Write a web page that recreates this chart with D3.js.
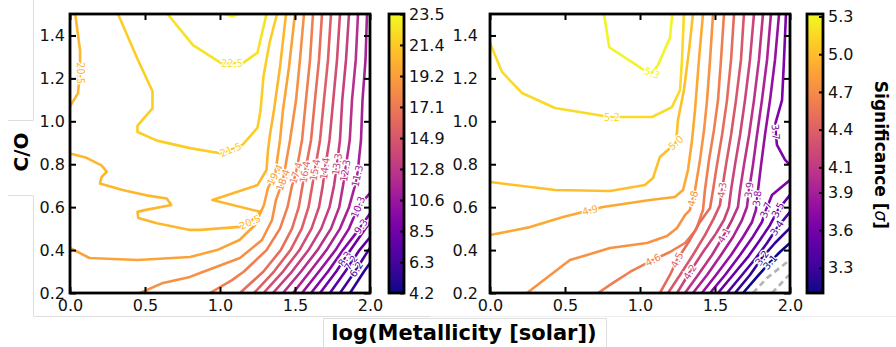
<!DOCTYPE html>
<html>
<head>
<meta charset="utf-8">
<script src="https://cdn.jsdelivr.net/npm/d3@7"></script>
<style>
body{margin:0;background:#fff;}
svg{display:block;font-family:"DejaVu Sans",sans-serif;}
</style>
</head>
<body>
<svg id="chart" width="896" height="347"></svg>
<script>
// axis ticks
var xTicks = [0, 0.5, 1.0, 1.5, 2.0];
var yTicks = [0.2, 0.4, 0.6, 0.8, 1.0, 1.2, 1.4];
var xDomain = [0, 2];
var yDomain = [0.2, 1.5];

// colour ranges + colorbar ticks
var leftRange = [4.2, 23.5];
var rightRange = [3.1, 5.32];
var leftCbarTicks = [4.2, 6.34, 8.49, 10.63, 12.78, 14.92, 17.07, 19.21, 21.36, 23.5];
var rightCbarTicks = [3.3, 3.6, 3.9, 4.1, 4.4, 4.7, 5.0, 5.3];

// contour lines: [level, [[logZ, C/O], ...]]
var leftContours = [
  [23.5, [[1.03,1.5],[1.08,1.49],[1.13,1.5]]],
  [22.48, [[0.65,1.5],[0.82,1.355],[1.01,1.27],[1.15,1.27],[1.25,1.32],[1.31,1.5]]],
  [21.47, [[0.32,1.5],[0.45,1.29],[0.55,1.14],[0.55,1.06],[0.45,0.98],[0.45,0.95],[0.58,0.91],[0.8,0.875],[1.01,0.85],[1.15,0.89],[1.25,0.97],[1.27,1.05],[1.29,1.21],[1.33,1.365],[1.38,1.5]]],
  [20.46, [[0.035,1.5],[0.067,1.33],[0.067,1.225],[0.053,1.13],[0.013,1.085],[0,1.07]]],
  [20.46, [[0,0.85],[0.11,0.83],[0.21,0.795],[0.245,0.765],[0.21,0.74],[0.2,0.71],[0.35,0.68],[0.51,0.655],[0.645,0.64],[0.675,0.61],[0.49,0.585],[0.45,0.578],[0.455,0.55],[0.58,0.525],[0.8,0.494],[0.87,0.494],[1.13,0.508],[1.2,0.53],[1.27,0.578],[0.95,0.633],[1.25,0.703],[1.31,0.773],[1.32,0.866],[1.335,0.946],[1.36,1.053],[1.4,1.253],[1.44,1.5]]],
  [19.44, [[0,0.41],[0.13,0.363],[0.45,0.354],[0.8,0.368],[0.98,0.4],[1.13,0.447],[1.233,0.517],[1.293,0.61],[1.32,0.69],[1.367,0.75],[1.4,0.913],[1.42,1.053],[1.46,1.253],[1.5,1.5]]],
  [18.42, [[0.467,0.2],[0.62,0.247],[0.8,0.275],[0.867,0.293],[1.133,0.363],[1.28,0.447],[1.347,0.54],[1.373,0.633],[1.42,0.726],[1.467,0.913],[1.507,1.099],[1.533,1.286],[1.56,1.5]]],
  [17.41, [[0.933,0.2],[1.08,0.26],[1.16,0.3],[1.31,0.4],[1.4,0.5],[1.45,0.6],[1.48,0.7],[1.507,0.759],[1.547,0.913],[1.573,1.099],[1.6,1.286],[1.62,1.5]]],
  [16.39, [[1.133,0.2],[1.29,0.3],[1.405,0.4],[1.48,0.5],[1.525,0.6],[1.55,0.7],[1.567,0.764],[1.607,0.913],[1.633,1.099],[1.66,1.286],[1.68,1.5]]],
  [15.37, [[1.227,0.2],[1.36,0.3],[1.47,0.4],[1.545,0.5],[1.59,0.6],[1.615,0.7],[1.633,0.773],[1.667,0.913],[1.693,1.099],[1.72,1.286],[1.74,1.5]]],
  [14.36, [[1.29,0.2],[1.42,0.3],[1.53,0.4],[1.61,0.5],[1.66,0.6],[1.685,0.7],[1.7,0.78],[1.73,0.913],[1.755,1.099],[1.78,1.286],[1.8,1.5]]],
  [13.34, [[1.353,0.2],[1.48,0.3],[1.59,0.4],[1.675,0.5],[1.73,0.6],[1.76,0.7],[1.78,0.8],[1.8,0.913],[1.815,1.099],[1.84,1.286],[1.86,1.5]]],
  [12.33, [[1.42,0.2],[1.54,0.3],[1.65,0.4],[1.74,0.5],[1.795,0.6],[1.82,0.7],[1.835,0.77],[1.865,0.913],[1.88,1.099],[1.905,1.286],[1.92,1.5]]],
  [11.31, [[1.487,0.2],[1.6,0.3],[1.71,0.4],[1.8,0.5],[1.86,0.6],[1.9,0.7],[1.915,0.745],[1.94,0.913],[1.95,1.099],[1.97,1.286],[1.98,1.5]]],
  [10.29, [[1.547,0.2],[1.66,0.3],[1.77,0.4],[1.86,0.5],[1.92,0.6],[2.0,0.666]]],
  [9.28, [[1.607,0.2],[1.72,0.3],[1.82,0.4],[1.93,0.5],[2.0,0.57]]],
  [8.26, [[1.667,0.2],[1.775,0.3],[1.87,0.4],[1.97,0.5],[2.0,0.53]]],
  [7.24, [[1.733,0.2],[1.835,0.3],[1.93,0.4],[2.0,0.46]]],
  [6.23, [[1.8,0.2],[1.9,0.3],[1.99,0.4],[2.0,0.41]]],
  [5.22, [[1.867,0.2],[1.96,0.3],[2.0,0.34]]]
];
var leftLabels = [
  [22.48,1.08,1.27],[21.47,1.08,0.852],[20.46,0.067,1.225],[20.46,1.2,0.53],
  [19.44,1.367,0.75],[18.42,1.42,0.726],[17.41,1.507,0.759],[16.39,1.567,0.764],
  [15.37,1.633,0.773],[14.36,1.7,0.78],[13.34,1.78,0.8],[12.33,1.835,0.77],
  [11.31,1.915,0.745],[10.29,1.92,0.6],[9.28,1.94,0.51],[8.26,1.83,0.36],
  [7.24,1.873,0.34],[6.23,1.91,0.31]
];

var rightContours = [
  [5.3, [[0.76,1.5],[0.795,1.345],[1.025,1.24],[1.08,1.225],[1.12,1.262],[1.2,1.39],[1.215,1.5]]],
  [5.16, [[0,1.365],[0.08,1.23],[0.213,1.132],[0.433,1.062],[0.8,1.02],[1.08,1.02],[1.213,1.066],[1.267,1.146],[1.28,1.286],[1.293,1.5]]],
  [5.02, [[0,0.717],[0.433,0.68],[0.8,0.675],[1.033,0.703],[1.087,0.736],[1.133,0.834],[1.24,0.9],[1.253,1.006],[1.293,1.146],[1.327,1.332],[1.353,1.5]]],
  [4.89, [[0,0.47],[0.267,0.507],[0.487,0.554],[0.753,0.601],[1.067,0.633],[1.233,0.647],[1.287,0.68],[1.32,0.773],[1.347,0.913],[1.367,1.053],[1.393,1.286],[1.42,1.5]]],
  [4.75, [[0.247,0.2],[0.333,0.247],[0.533,0.354],[0.647,0.377],[0.8,0.41],[1.047,0.433],[1.18,0.466],[1.247,0.503],[1.3,0.563],[1.333,0.587],[1.367,0.68],[1.4,0.82],[1.427,0.959],[1.447,1.099],[1.467,1.286],[1.487,1.5]]],
  [4.61, [[0.72,0.2],[0.82,0.247],[0.933,0.298],[1.087,0.354],[1.2,0.391],[1.3,0.433],[1.373,0.494],[1.42,0.587],[1.433,0.68],[1.46,0.82],[1.493,0.959],[1.52,1.099],[1.54,1.286],[1.56,1.5]]],
  [4.48, [[1.133,0.2],[1.2,0.284],[1.247,0.354],[1.333,0.447],[1.4,0.531],[1.467,0.596],[1.487,0.68],[1.513,0.796],[1.547,0.936],[1.58,1.099],[1.607,1.286],[1.627,1.5]]],
  [4.34, [[1.187,0.2],[1.267,0.284],[1.353,0.377],[1.433,0.47],[1.493,0.549],[1.533,0.61],[1.547,0.68],[1.573,0.796],[1.607,0.936],[1.64,1.099],[1.673,1.286],[1.693,1.5]]],
  [4.2, [[1.247,0.2],[1.333,0.298],[1.42,0.391],[1.5,0.47],[1.56,0.54],[1.593,0.601],[1.607,0.68],[1.633,0.796],[1.667,0.936],[1.7,1.099],[1.733,1.286],[1.76,1.5]]],
  [4.07, [[1.3,0.2],[1.387,0.284],[1.48,0.377],[1.56,0.47],[1.613,0.54],[1.653,0.601],[1.667,0.68],[1.693,0.796],[1.727,0.936],[1.76,1.099],[1.793,1.286],[1.82,1.5]]],
  [3.93, [[1.353,0.2],[1.447,0.284],[1.54,0.377],[1.62,0.461],[1.68,0.54],[1.713,0.601],[1.727,0.68],[1.753,0.796],[1.78,0.936],[1.813,1.099],[1.847,1.286],[1.873,1.5]]],
  [3.79, [[1.413,0.2],[1.507,0.284],[1.607,0.377],[1.687,0.461],[1.747,0.531],[1.773,0.587],[1.787,0.68],[1.807,0.796],[1.833,0.936],[1.867,1.099],[1.9,1.286],[1.927,1.5]]],
  [3.66, [[1.973,1.5],[1.96,1.286],[1.947,1.099],[1.9,0.983],[1.913,0.89],[1.967,0.82],[2.0,0.796]]],
  [3.66, [[2.0,0.726],[1.88,0.657],[1.84,0.587],[1.813,0.531],[1.747,0.456],[1.667,0.377],[1.567,0.284],[1.467,0.2]]],
  [3.51, [[1.52,0.2],[1.62,0.284],[1.72,0.368],[1.8,0.447],[1.867,0.517],[1.92,0.587],[2.0,0.657]]],
  [3.37, [[1.58,0.2],[1.68,0.284],[1.773,0.363],[1.847,0.433],[1.913,0.503],[2.0,0.578]]],
  [3.24, [[1.633,0.2],[1.733,0.284],[1.813,0.363],[1.9,0.433],[2.0,0.503]]],
  [3.1, [[1.687,0.2],[1.78,0.275],[1.867,0.344],[1.933,0.391],[2.0,0.433]]]
];
var rightDashed = [
  [[1.753,0.2],[1.847,0.27],[1.98,0.344],[2.0,0.354]],
  [[1.88,0.2],[1.987,0.279],[2.0,0.284]]
];
var rightLabels = [
  [5.3,1.08,1.225],[5.16,0.813,1.02],[5.02,1.24,0.9],[4.89,0.667,0.586],
  [4.75,1.352,0.64],[4.61,1.087,0.354],[4.48,1.247,0.354],[4.34,1.547,0.68],
  [4.2,1.333,0.298],[4.07,1.56,0.47],[3.93,1.727,0.68],[3.79,1.781,0.64],
  [3.66,1.905,0.95],[3.66,1.84,0.587],[3.51,1.92,0.587],[3.37,1.913,0.503],
  [3.24,1.813,0.363],[3.1,1.867,0.344]
];

var svg = d3.select("#chart");
var top0 = 14, pw = 300, ph = 279;

// faint frame lines that sit in the original screenshot
var faint = svg.append("g").attr("stroke", "#dedede").attr("stroke-width", 1).attr("fill", "none");
faint.append("path").attr("d", "M33.5,0V120.5H8");
faint.append("path").attr("d", "M8,195.5H33.5V316.5H430");
faint.append("path").attr("d", "M430,316.5H896").attr("stroke", "#eeeeee");
faint.append("path").attr("d", "M323.5,347V318.5H606.5V347");

function drawPanel(o){
    var g = svg.append("g").attr("transform", "translate(" + o.left + "," + top0 + ")");
    var x = d3.scaleLinear().domain(xDomain).range([0, pw]);
    var y = d3.scaleLinear().domain(yDomain).range([ph, 0]);
    var color = function(v){
        return d3.interpolatePlasma((v - o.range[0]) / (o.range[1] - o.range[0]));
    };
    var line = d3.line().x(function(d){ return x(d[0]); }).y(function(d){ return y(d[1]); });

    g.append("clipPath").attr("id", o.id).append("rect").attr("width", pw).attr("height", ph);
    var body = g.append("g").attr("clip-path", "url(#" + o.id + ")");

    body.selectAll("path.ctr")
        .data(o.contours)
        .enter().append("path")
        .attr("class", "ctr")
        .attr("d", function(d){ return line(d[1]); })
        .attr("fill", "none")
        .attr("stroke", function(d){ return color(d[0]); })
        .attr("stroke-width", 2.6)
        .attr("stroke-linejoin", "round");

    if(o.dashed){
        body.selectAll("path.dash")
            .data(o.dashed)
            .enter().append("path")
            .attr("class", "dash")
            .attr("d", line)
            .attr("fill", "none")
            .attr("stroke", "#b4b4b4")
            .attr("stroke-width", 2.6)
            .attr("stroke-dasharray", "6,4");
    }

    // inline labels, rotated along the nearest segment of their contour
    o.labels.forEach(function(lb){
        var px = x(lb[1]), py = y(lb[2]);
        var best = null;
        o.contours.forEach(function(c){
            if(c[0] !== lb[0]) return;
            var pts = c[1];
            for(var i = 0; i < pts.length - 1; i++){
                var ax = x(pts[i][0]), ay = y(pts[i][1]);
                var bx = x(pts[i+1][0]), by = y(pts[i+1][1]);
                var dx = bx - ax, dy = by - ay;
                var t = ((px - ax) * dx + (py - ay) * dy) / (dx * dx + dy * dy || 1);
                t = Math.max(0, Math.min(1, t));
                var qx = ax + t * dx, qy = ay + t * dy;
                var dist = (qx - px) * (qx - px) + (qy - py) * (qy - py);
                if(!best || dist < best.dist) best = {dist: dist, qx: qx, qy: qy, ang: Math.atan2(dy, dx) * 180 / Math.PI};
            }
        });
        var ang = best.ang;
        if(ang > 90) ang -= 180;
        if(ang < -90) ang += 180;
        body.append("text")
            .attr("transform", "translate(" + best.qx + "," + best.qy + ") rotate(" + ang + ")")
            .attr("text-anchor", "middle")
            .attr("dy", "0.35em")
            .attr("font-size", 10)
            .attr("fill", color(lb[0]))
            .attr("stroke", "#fff")
            .attr("stroke-width", 2.5)
            .attr("paint-order", "stroke")
            .text(lb[0].toFixed(1));
    });

    var fmt = d3.format(".1f");
    var axB = g.append("g").attr("transform", "translate(0," + ph + ")")
        .call(d3.axisBottom(x).tickValues(xTicks).tickSize(-6).tickPadding(7).tickFormat(fmt));
    var axL = g.append("g")
        .call(d3.axisLeft(y).tickValues(yTicks).tickSize(-6).tickPadding(o.yPad).tickFormat(fmt));
    var axT = g.append("g")
        .call(d3.axisTop(x).tickValues(xTicks).tickSize(-6).tickFormat(""));
    var axR = g.append("g").attr("transform", "translate(" + pw + ",0)")
        .call(d3.axisRight(y).tickValues(yTicks).tickSize(-6).tickFormat(""));
    [axB, axL, axT, axR].forEach(function(a){
        a.select(".domain").remove();
        a.attr("font-size", 16).attr("font-family", "DejaVu Sans, sans-serif");
        a.selectAll(".tick line").attr("stroke", "#000").attr("stroke-width", 2);
        a.selectAll(".tick text").attr("fill", "#111");
    });

    g.append("rect").attr("width", pw).attr("height", ph)
        .attr("fill", "none").attr("stroke", "#000").attr("stroke-width", 2.8);
}

function drawColorbar(o){
    var cb = svg.append("g").attr("transform", "translate(" + o.left + "," + top0 + ")");
    var s = d3.scaleLinear().domain(o.domain).range([ph, 0]);
    var grad = svg.append("defs").append("linearGradient").attr("id", o.id)
        .attr("x1", 0).attr("y1", 1).attr("x2", 0).attr("y2", 0);
    d3.range(0, 1.0001, 0.05).forEach(function(t){
        grad.append("stop").attr("offset", t).attr("stop-color", d3.interpolatePlasma(t));
    });
    cb.append("rect").attr("width", o.w).attr("height", ph).attr("fill", "url(#" + o.id + ")");
    var ax = cb.append("g").attr("transform", "translate(" + o.w + ",0)")
        .call(d3.axisRight(s).tickValues(o.ticks).tickSize(-4).tickPadding(5).tickFormat(d3.format(".1f")));
    ax.select(".domain").remove();
    ax.attr("font-size", 16).attr("font-family", "DejaVu Sans, sans-serif");
    ax.selectAll(".tick line").attr("stroke", "#000").attr("stroke-width", 2);
    ax.selectAll(".tick text").attr("fill", "#111");
    cb.append("rect").attr("width", o.w).attr("height", ph)
        .attr("fill", "none").attr("stroke", "#000").attr("stroke-width", 2.8);
}

drawPanel({id: "clipL", left: 70, range: leftRange, contours: leftContours, labels: leftLabels, yPad: 5});
drawPanel({id: "clipR", left: 490, range: rightRange, contours: rightContours, labels: rightLabels, dashed: rightDashed, yPad: 12});
drawColorbar({id: "gradL", left: 389, w: 15, domain: leftRange, ticks: leftCbarTicks});
drawColorbar({id: "gradR", left: 807, w: 16, domain: rightRange, ticks: rightCbarTicks});

// axis titles
svg.append("text")
    .attr("transform", "translate(21,152) rotate(-90)")
    .attr("text-anchor", "middle").attr("dy", "0.35em")
    .attr("font-size", 20).attr("font-weight", "bold")
    .text("C/O");
svg.append("text")
    .attr("x", 464).attr("y", 340)
    .attr("text-anchor", "middle")
    .attr("font-size", 21).attr("font-weight", "bold")
    .text("log(Metallicity [solar])");
var sig = svg.append("text")
    .attr("transform", "translate(881,155) rotate(90)")
    .attr("text-anchor", "middle").attr("dy", "0.35em")
    .attr("font-size", 17).attr("font-weight", "bold");
sig.append("tspan").text("Significance [");
sig.append("tspan").attr("font-style", "italic").attr("font-weight", "normal").text("σ");
sig.append("tspan").text("]");
</script>
</body>
</html>
